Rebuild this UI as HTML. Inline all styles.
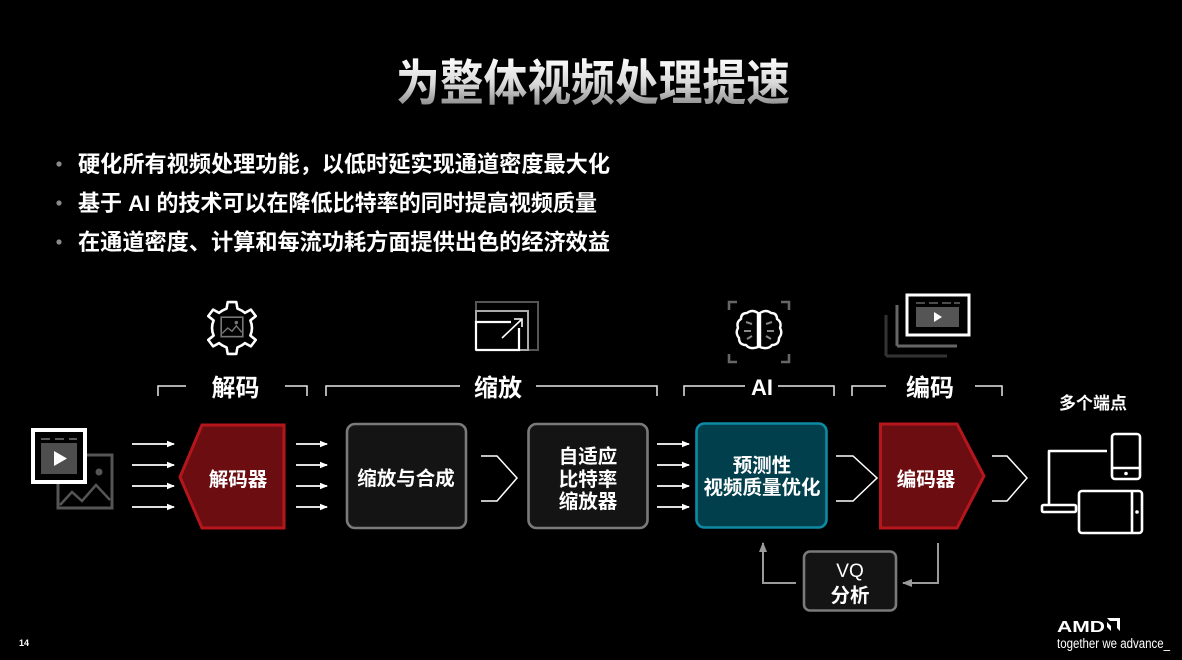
<!DOCTYPE html>
<html><head><meta charset="utf-8"><style>
html,body{margin:0;padding:0;background:#000;}
body{width:1182px;height:660px;overflow:hidden;}
svg{display:block;}
text{font-family:"Liberation Sans","Noto Sans CJK SC",sans-serif;font-weight:bold;fill:#fff;}
</style></head><body>
<svg width="1182" height="660" viewBox="0 0 1182 660" xmlns="http://www.w3.org/2000/svg">
<defs>
<linearGradient id="tg" x1="0" y1="0" x2="0" y2="1">
<stop offset="0" stop-color="#ffffff"/><stop offset="0.5" stop-color="#d8d8d8"/><stop offset="1" stop-color="#7a7a7a"/>
</linearGradient>
<marker id="ah" markerWidth="8" markerHeight="8" refX="7" refY="4" orient="auto" markerUnits="userSpaceOnUse">
<path d="M0,0.8 L8,4 L0,7.2 Z" fill="#fff"/></marker>
<marker id="ahg" markerWidth="10" markerHeight="10" refX="9" refY="5" orient="auto" markerUnits="userSpaceOnUse">
<path d="M0,1 L10,5 L0,9 Z" fill="#9a9a9a"/></marker>
</defs>
<rect width="1182" height="660" fill="#000"/>

<!-- Title -->
<text x="593" y="100" font-size="49" text-anchor="middle" fill="url(#tg)" style="fill:url(#tg)" textLength="394" lengthAdjust="spacingAndGlyphs">为整体视频处理提速</text>

<!-- Bullets -->
<circle cx="59" cy="164" r="2.6" fill="#8a8a8a"/>
<circle cx="59" cy="203" r="2.6" fill="#8a8a8a"/>
<circle cx="59" cy="242" r="2.6" fill="#8a8a8a"/>
<text x="78" y="172" font-size="22.5" textLength="532" lengthAdjust="spacingAndGlyphs">硬化所有视频处理功能，以低时延实现通道密度最大化</text>
<text x="78" y="211" font-size="22.5" textLength="519" lengthAdjust="spacingAndGlyphs">基于 AI 的技术可以在降低比特率的同时提高视频质量</text>
<text x="78" y="250" font-size="22.5" textLength="532" lengthAdjust="spacingAndGlyphs">在通道密度、计算和每流功耗方面提供出色的经济效益</text>

<!-- Brackets -->
<g stroke="#e8e8e8" stroke-width="1.5" fill="none">
<path d="M158,396 V386 H186"/><path d="M285,386 H307 V396"/>
<path d="M326,396 V386 H460"/><path d="M536,386 H657 V396"/>
<path d="M684,396 V386 H745"/><path d="M778,386 H834 V396"/>
<path d="M852,396 V386 H886"/><path d="M975,386 H1002 V396"/>
</g>
<text x="235.5" y="396" font-size="24" text-anchor="middle">解码</text>
<text x="498" y="396" font-size="24" text-anchor="middle">缩放</text>
<text x="762" y="395" font-size="22" text-anchor="middle">AI</text>
<text x="930" y="396" font-size="24" text-anchor="middle">编码</text>
<text x="1093" y="409" font-size="17" text-anchor="middle">多个端点</text>

<!-- Gear icon -->
<g transform="translate(232,328) scale(1.08)">
<path d="M-4,-24 L4,-24 L5,-18 Q9,-16.5 12,-14 L17.5,-17 L22,-11 L17,-7 Q18.5,-3.5 18.5,0 Q18.5,3.5 17,7 L22,11 L17.5,17 L12,14 Q9,16.5 5,18 L4,24 L-4,24 L-5,18 Q-9,16.5 -12,14 L-17.5,17 L-22,11 L-17,7 Q-18.5,3.5 -18.5,0 Q-18.5,-3.5 -17,-7 L-22,-11 L-17.5,-17 L-12,-14 Q-9,-16.5 -5,-18 Z" fill="none" stroke="#fff" stroke-width="2.4" stroke-linejoin="round"/>
<rect x="-10" y="-10" width="20" height="18" fill="none" stroke="#777" stroke-width="1.5"/>
<path d="M-9,5 L-4,0 L0,3 L4,-2 L9,4" fill="none" stroke="#777" stroke-width="1.3"/>
<circle cx="4" cy="-5" r="1.6" fill="#777"/>
</g>

<!-- Scale icon -->
<g fill="none">
<rect x="476" y="302" width="62" height="48" stroke="#555" stroke-width="2"/>
<rect x="476" y="311" width="52" height="39" stroke="#aaa" stroke-width="2"/>
<path d="M476,350 V322 H511 M519,328 V350 H476" stroke="#fff" stroke-width="2.2"/>
<path d="M502,338 L521,320" stroke="#fff" stroke-width="1.6"/>
<path d="M514,319 L522,319 L522,327" stroke="#fff" stroke-width="1.6"/>
</g>

<!-- Brain icon -->
<g fill="none" stroke="#666" stroke-width="2.6">
<path d="M729,310 V302 H737"/><path d="M781,302 H789 V310"/>
<path d="M729,354 V362 H737"/><path d="M781,362 H789 V354"/>
</g>
<g fill="none" stroke="#fff" stroke-width="2.4" stroke-linejoin="round">
<path d="M758,313 Q752,309 747,313 Q741,313 741,319 Q736,322 738,328 Q735,333 739,338 Q739,345 746,345 Q750,350 758,347 Z"/>
<path d="M760,313 Q766,309 771,313 Q777,313 777,319 Q782,322 780,328 Q783,333 779,338 Q779,345 772,345 Q768,350 760,347 Z"/>
</g>
<g stroke="#888" stroke-width="2" fill="none">
<path d="M746,322 L752,324"/><path d="M744,331 L751,331"/><path d="M747,339 L752,336"/>
<path d="M772,322 L766,324"/><path d="M774,331 L767,331"/><path d="M771,339 L766,336"/>
</g>

<!-- Encode stack icon -->
<g fill="none">
<path d="M886,356 V315 M886,356 H947" stroke="#333" stroke-width="3"/>
<path d="M897,346 V305 M897,346 H957" stroke="#666" stroke-width="3"/>
<rect x="907" y="295" width="62" height="40" fill="#000" stroke="#fff" stroke-width="3"/>
</g>
<g stroke="#666" stroke-width="1.5"><path d="M916,303 H925 M929,303 H938 M942,303 H951 M954,303 H960"/></g>
<rect x="916" y="307" width="43" height="20" fill="#555"/>
<path d="M934,312 L942,317 L934,322 Z" fill="#fff"/>

<!-- Input media icon -->
<g fill="none" stroke="#555" stroke-width="3">
<path d="M74,455 H112 V508 H58 V480"/>
</g>
<path d="M60,505 L72,492 L82,501 L96,485 L110,500" fill="none" stroke="#555" stroke-width="2.5"/>
<circle cx="99" cy="472" r="3.5" fill="#555"/>
<rect x="33" y="430" width="52" height="52" fill="#000" stroke="#fff" stroke-width="4"/>
<g stroke="#777" stroke-width="1.5"><path d="M41,439 H50 M55,439 H64 M69,439 H77"/></g>
<rect x="41" y="443" width="36" height="31" fill="#4e4e4e"/>
<path d="M54,451 L67,458.5 L54,466 Z" fill="#fff"/>

<!-- Arrows groups -->
<g stroke="#fff" stroke-width="1.8" marker-end="url(#ah)">
<line x1="132" y1="444" x2="174" y2="444"/><line x1="132" y1="465" x2="174" y2="465"/>
<line x1="132" y1="486" x2="174" y2="486"/><line x1="132" y1="507" x2="174" y2="507"/>
<line x1="296" y1="444" x2="327" y2="444"/><line x1="296" y1="465" x2="327" y2="465"/>
<line x1="296" y1="486" x2="327" y2="486"/><line x1="296" y1="507" x2="327" y2="507"/>
<line x1="657" y1="444" x2="689" y2="444"/><line x1="657" y1="465" x2="689" y2="465"/>
<line x1="657" y1="486" x2="689" y2="486"/><line x1="657" y1="507" x2="689" y2="507"/>
</g>

<!-- Chevrons -->
<g fill="none" stroke="#fff" stroke-width="1.5">
<path d="M481,456 H497 L517,478 L497,501 H481"/>
<path d="M836,456 H853 L877,478 L853,501 H836"/>
<path d="M992,456 H1007 L1027,478 L1007,501 H992"/>
</g>

<!-- Decoder hexagon -->
<path d="M202,425 H284 V528 H202 L180,477 Z" fill="#6c0d11" stroke="#b5161c" stroke-width="3"/>
<text x="238" y="486" font-size="19.5" text-anchor="middle">解码器</text>

<!-- Scale & composite box -->
<rect x="347" y="424" width="119" height="104" rx="8" fill="#141414" stroke="#7a7a7a" stroke-width="2.6"/>
<text x="406" y="485" font-size="19.5" text-anchor="middle">缩放与合成</text>

<!-- Adaptive bitrate scaler -->
<rect x="528.5" y="424" width="119" height="104" rx="8" fill="#141414" stroke="#7a7a7a" stroke-width="2.6"/>
<text x="588" y="463" font-size="19.5" text-anchor="middle">自适应</text>
<text x="588" y="486" font-size="19.5" text-anchor="middle">比特率</text>
<text x="588" y="508" font-size="19.5" text-anchor="middle">缩放器</text>

<!-- AI box -->
<rect x="696.5" y="423.5" width="130" height="104" rx="8" fill="#003f4b" stroke="#0e8aa3" stroke-width="2.6"/>
<text x="762" y="472" font-size="19.5" text-anchor="middle">预测性</text>
<text x="762" y="494" font-size="19.5" text-anchor="middle">视频质量优化</text>

<!-- Encoder pentagon -->
<path d="M880.5,424 H957 L984,476 L957,528 H880.5 Z" fill="#6c0d11" stroke="#b5161c" stroke-width="3"/>
<text x="926" y="486" font-size="19.5" text-anchor="middle">编码器</text>

<!-- VQ analysis -->
<rect x="804" y="551.5" width="92" height="59" rx="6" fill="#141414" stroke="#7a7a7a" stroke-width="2.6"/>
<text x="850" y="577" font-size="19" text-anchor="middle" font-weight="normal" style="font-weight:normal">VQ</text>
<text x="850" y="602" font-size="19.5" text-anchor="middle">分析</text>
<path d="M796,583 H763 V543" fill="none" stroke="#9a9a9a" stroke-width="2" marker-end="url(#ahg)"/>
<path d="M938,543 V583 H903" fill="none" stroke="#9a9a9a" stroke-width="2" marker-end="url(#ahg)"/>

<!-- Devices -->
<g fill="none" stroke="#fff" stroke-width="2.6" stroke-linejoin="round">
<path d="M1107,451 H1049 V505"/>
<rect x="1042" y="505" width="34" height="7" rx="1.5"/>
<rect x="1112" y="434" width="28" height="45" rx="3"/>
<path d="M1112,468 H1140"/>
<rect x="1079" y="491" width="63" height="42" rx="3"/>
<path d="M1132,491 V533"/>
</g>
<circle cx="1126" cy="473.5" r="1.8" fill="#fff"/>
<circle cx="1137" cy="512" r="1.8" fill="#fff"/>

<!-- AMD logo -->
<text x="1057" y="632" font-size="16" font-weight="bold" style="font-family:'Liberation Sans',sans-serif;font-weight:900" textLength="48" lengthAdjust="spacingAndGlyphs">AMD</text>
<path d="M1107,618 H1120 V631 L1117,628 V621 H1110 Z M1107,622 L1111,626 V631 H1115 L1111,631 L1107,627 Z" fill="#fff"/>
<text x="1057" y="648" font-size="13.5" font-weight="normal" style="font-weight:normal" textLength="113" lengthAdjust="spacingAndGlyphs">together we advance_</text>

<!-- Page number -->
<text x="19" y="646" font-size="9">14</text>
</svg>
</body></html>
